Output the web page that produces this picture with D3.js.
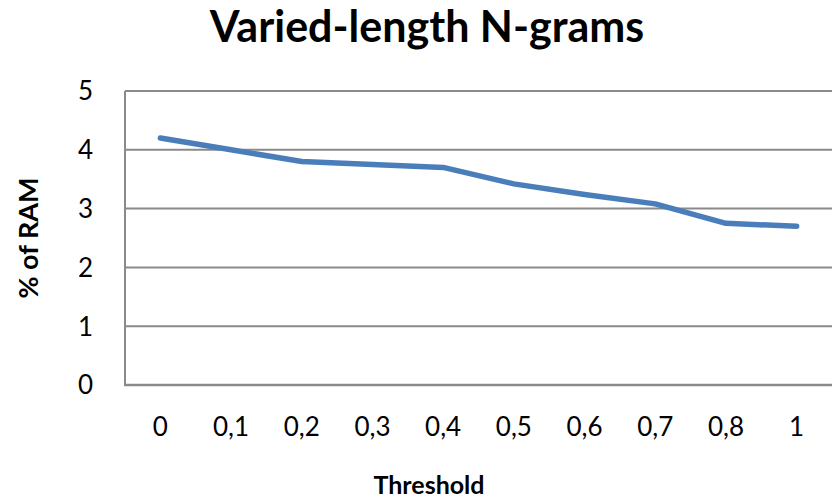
<!DOCTYPE html>
<html>
<head>
<meta charset="utf-8">
<script src="https://cdn.jsdelivr.net/npm/d3@7"></script>
<style>
  body { margin: 0; background: #fff; }
  text { font-family: Lato, "Open Sans", sans-serif; fill: #000; }
</style>
</head>
<body>
<svg></svg>
<script>
var thresholds = ["0", "0,1", "0,2", "0,3", "0,4", "0,5", "0,6", "0,7", "0,8", "1"];
var ramValues = [4.2, 4.0, 3.8, 3.75, 3.7, 3.42, 3.24, 3.08, 2.75, 2.7];
var yTicks = [0, 1, 2, 3, 4, 5];

var width = 833, height = 499;
var margin = {top: 91, right: 1, bottom: 114, left: 125};

var svg = d3.select("svg").attr("width", width).attr("height", height);

var x = d3.scaleBand()
    .domain(thresholds)
    .range([margin.left, width - margin.right]);

var y = d3.scaleLinear()
    .domain([0, 5])
    .range([height - margin.bottom, margin.top]);

// gridlines
svg.append("g")
  .selectAll("line")
  .data(yTicks.filter(function(d) { return d > 0; }))
  .enter().append("line")
    .attr("x1", margin.left)
    .attr("x2", width - margin.right)
    .attr("y1", function(d) { return y(d); })
    .attr("y2", function(d) { return y(d); })
    .attr("stroke", "#8a8a8a")
    .attr("stroke-width", 2);

// axis lines
svg.append("line")
    .attr("x1", margin.left).attr("x2", margin.left)
    .attr("y1", y(5)).attr("y2", y(0))
    .attr("stroke", "#8a8a8a").attr("stroke-width", 2);
svg.append("line")
    .attr("x1", margin.left - 1).attr("x2", width - margin.right)
    .attr("y1", y(0)).attr("y2", y(0))
    .attr("stroke", "#8a8a8a").attr("stroke-width", 2.5);

// y tick labels
svg.append("g")
  .selectAll("text")
  .data(yTicks)
  .enter().append("text")
    .attr("x", 93)
    .attr("y", function(d) { return y(d); })
    .attr("dy", "0.36em")
    .attr("text-anchor", "end")
    .style("font-size", "26px")
    .text(function(d) { return d; });

// x tick labels
svg.append("g")
  .selectAll("text")
  .data(thresholds)
  .enter().append("text")
    .attr("x", function(d) { return x(d) + x.bandwidth() / 2; })
    .attr("y", 436)
    .attr("text-anchor", "middle")
    .style("font-size", "26px")
    .text(function(d) { return d; });

// line
var line = d3.line()
    .x(function(d, i) { return x(thresholds[i]) + x.bandwidth() / 2; })
    .y(function(d) { return y(d); });

svg.append("path")
    .datum(ramValues)
    .attr("fill", "none")
    .attr("stroke", "#4a7ebb")
    .attr("stroke-width", 5.5)
    .attr("stroke-linecap", "round")
    .attr("stroke-linejoin", "round")
    .attr("d", line);

// title
svg.append("text")
    .attr("x", 427)
    .attr("y", 42)
    .attr("text-anchor", "middle")
    .style("font-size", "43px")
    .style("font-weight", "bold")
    .text("Varied-length N-grams");

// axis titles
svg.append("text")
    .attr("transform", "translate(38,238) rotate(-90)")
    .attr("text-anchor", "middle")
    .style("font-size", "27px")
    .style("font-weight", "bold")
    .text("% of RAM");

svg.append("text")
    .attr("x", 429)
    .attr("y", 494)
    .attr("text-anchor", "middle")
    .style("font-size", "25px")
    .style("font-weight", "bold")
    .text("Threshold");
</script>
</body>
</html>
